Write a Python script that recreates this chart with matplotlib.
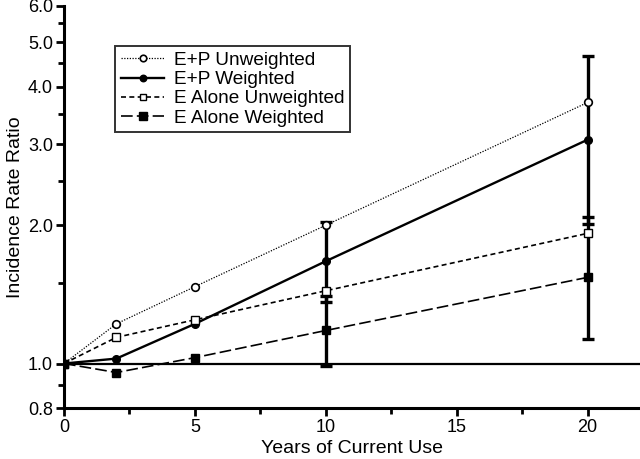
import numpy as np
import matplotlib
matplotlib.use("Agg")
import matplotlib.pyplot as plt
from matplotlib.ticker import FixedLocator, FormatStrFormatter, NullFormatter

plt.rcParams['font.family'] = ['Liberation Sans', 'DejaVu Sans']

# data
years = [0, 2, 5, 10, 20]
ep_unweighted = [1.0, 1.22, 1.47, 2.0, 3.70]
ep_weighted = [1.0, 1.025, 1.22, 1.67, 3.07]
e_unweighted = [1.0, 1.14, 1.245, 1.44, 1.92]
e_weighted = [1.0, 0.956, 1.03, 1.18, 1.54]

ci_years = [10, 20]
ep_w_lo = [1.36, 2.01]
ep_w_hi = [2.03, 4.68]
e_w_lo = [0.99, 1.13]
e_w_hi = [1.40, 2.08]

fig = plt.figure(figsize=(6.4, 4.59), dpi=100)
ax = fig.add_axes([0.1, 0.111, 0.9, 0.876])

ax.axhline(1.0, color='black', lw=1.6, zorder=1)

# confidence intervals for the weighted series
for vals, lo, hi in [([ep_weighted[3], ep_weighted[4]], ep_w_lo, ep_w_hi),
                     ([e_weighted[3], e_weighted[4]], e_w_lo, e_w_hi)]:
    vals = np.array(vals)
    yerr = [vals - np.array(lo), np.array(hi) - vals]
    ax.errorbar(ci_years, vals, yerr=yerr, fmt='none', ecolor='black',
                elinewidth=2.4, capsize=4.5, capthick=2.4, zorder=2)

ax.plot(years, ep_unweighted, color='black', ls=(0, (1, 1.2)), lw=0.9,
        marker='o', ms=5.5, mfc='white', mec='black', mew=1.2,
        label='E+P Unweighted', zorder=3)
ax.plot(years, ep_weighted, color='black', ls='-', lw=1.7,
        marker='o', ms=5.5, mfc='black', mec='black',
        label='E+P Weighted', zorder=3)
ax.plot(years, e_unweighted, color='black', ls=(0, (3, 2)), lw=1.2,
        marker='s', ms=5.5, mfc='white', mec='black', mew=1.0,
        label='E Alone Unweighted', zorder=3)
ax.plot(years, e_weighted, color='black', ls=(0, (7, 2.5)), lw=1.2,
        marker='s', ms=6, mfc='black', mec='black',
        label='E Alone Weighted', zorder=3)

ax.set_yscale('log')
ax.set_ylim(0.8, 6.0)
ax.set_xlim(0, 22)

ax.yaxis.set_major_locator(FixedLocator([0.8, 1.0, 2.0, 3.0, 4.0, 5.0, 6.0]))
ax.yaxis.set_major_formatter(FormatStrFormatter('%.1f'))
ax.yaxis.set_minor_locator(FixedLocator([0.9, 1.5, 2.5, 3.5, 4.5, 5.5]))
ax.yaxis.set_minor_formatter(NullFormatter())
ax.xaxis.set_major_locator(FixedLocator([0, 5, 10, 15, 20]))
ax.xaxis.set_minor_locator(FixedLocator([2.5, 7.5, 12.5, 17.5]))

for side in ['top', 'right']:
    ax.spines[side].set_visible(False)
for side in ['left', 'bottom']:
    ax.spines[side].set_linewidth(2.2)

ax.tick_params(which='major', length=6, width=2, labelsize=13, pad=2)
ax.tick_params(which='minor', length=4, width=2)

ax.set_xlabel('Years of Current Use', fontsize=14, labelpad=3)
ax.set_ylabel('Incidence Rate Ratio', fontsize=14, labelpad=3)

leg = ax.legend(loc='upper left', bbox_to_anchor=(115 / 640, 1 - 46 / 459),
                bbox_transform=fig.transFigure, fontsize=13.7,
                frameon=True, fancybox=False, edgecolor='black',
                handlelength=2.3, handletextpad=0.5, labelspacing=0.1,
                borderpad=0.3, borderaxespad=0, markerscale=0.85)
leg.get_frame().set_linewidth(1.4)

fig.savefig('out.png', dpi=100)
